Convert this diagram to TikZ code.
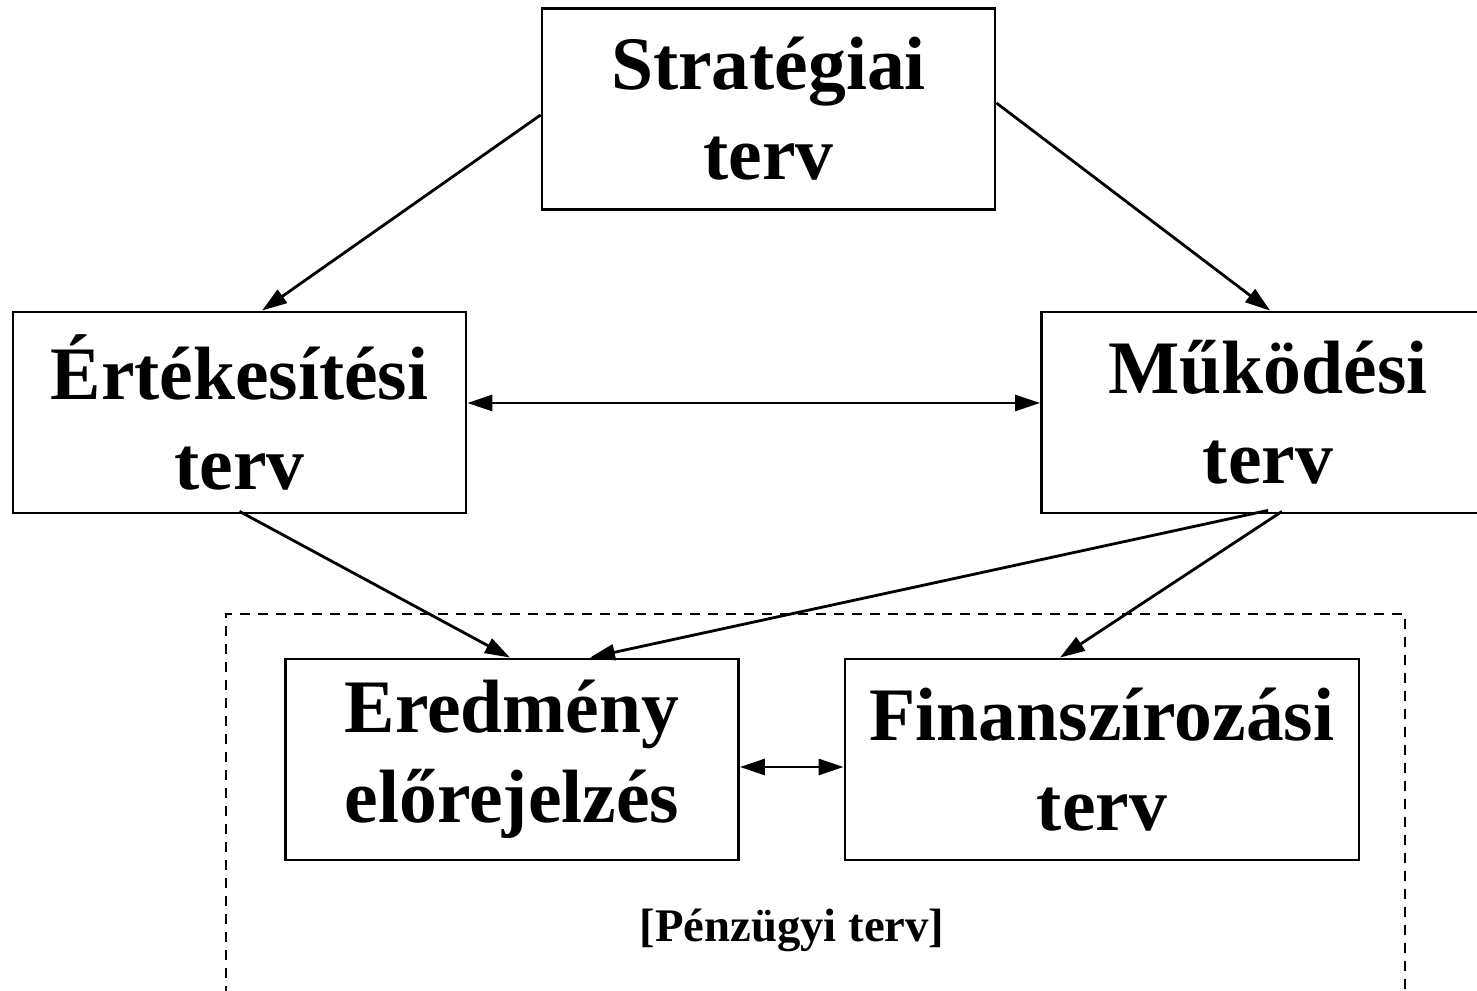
\documentclass[tikz,border=0pt]{standalone}
\usepackage{fontspec}
\setmainfont{Liberation Serif}
\usetikzlibrary{arrows.meta}

\begin{document}
\begin{tikzpicture}[
    >={Triangle[length=2.5mm,width=1.6mm]},
    line width=0.8pt,
    box/.style={draw,minimum width=4.53cm,minimum height=2.01cm,align=center,
      font=\fontsize{21.5}{25.6}\selectfont\bfseries},
    dashbox/.style={dash pattern=on 1.0mm off 0.8mm,line width=0.8pt}]
      \useasboundingbox (0,0) rectangle (14.77,-9.91);
      \draw
        (7.685, -1.09) node[box] (strat){Stratégiai\\terv}
        (2.395, -4.125) node[box] (ertek){Értékesítési\\terv}
        (12.68, -4.125) node[box] (mukod){Működési\\terv}
        (5.12, -7.595) node[box] (ered){Eredmény\\előrejelzés}
        (11.02, -7.595) node[box,minimum width=5.14cm] (finansz){Finanszírozási\\terv}
        (7.92, -9.30) node[font=\fontsize{13.3}{16}\selectfont\bfseries] (penzugy){[Pénzügyi terv]};
      \draw[dashbox] (2.26,-10.5) |- (14.05,-6.14) -- (14.05,-10.5);
      \begin{scope}[->]
        \draw ([yshift=-0.06cm]strat.west) -- ([xshift=0.225cm]ertek.north);
        \draw ([yshift=0.06cm]strat.east) -- ([xshift=0.02cm]mukod.north);
        \draw[<->] ([yshift=0.095cm]ertek.east) -- ([yshift=0.095cm]mukod.west);
        \draw ([yshift=0.03cm]ertek.south) -- ([xshift=-0.02cm]ered.north);
        \draw ([yshift=0.04cm]mukod.south) -- ([xshift=0.78cm]ered.north);
        \draw ([xshift=0.14cm,yshift=0.03cm]mukod.south) -- ([xshift=-0.42cm]finansz.north);
        \draw[<->] ([yshift=-0.075cm]ered.east) -- ([yshift=-0.075cm]finansz.west);
      \end{scope}
    \end{tikzpicture}
\end{document}
